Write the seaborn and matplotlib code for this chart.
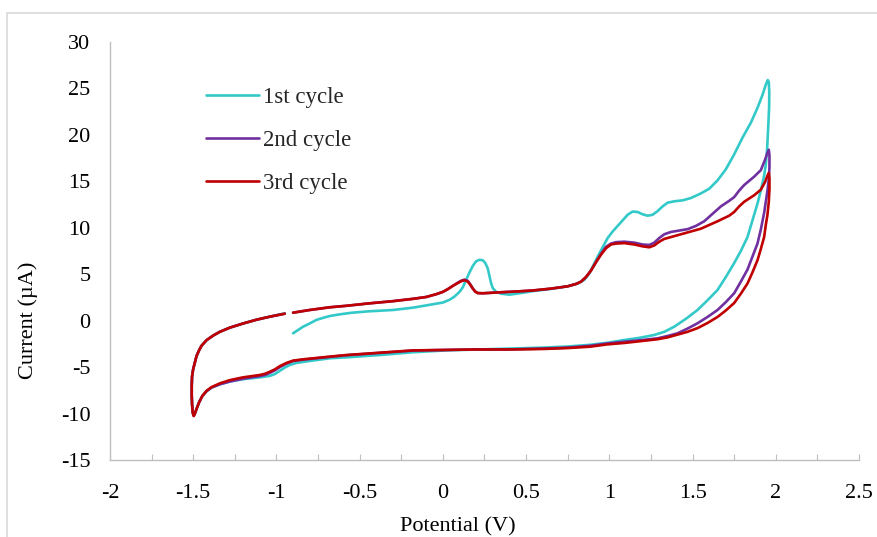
import matplotlib
matplotlib.use("Agg")
import matplotlib.pyplot as plt
import seaborn as sns
import pandas as pd
from matplotlib.patches import Rectangle

# Cyclic voltammograms: (potential V, current uA) pairs in scan order
cycle1 = [
    (-0.90, -1.36), (-0.87, -1.0), (-0.84, -0.65), (-0.80, -0.3), (-0.76, 0.08),
    (-0.72, 0.3), (-0.68, 0.5), (-0.62, 0.68), (-0.55, 0.85), (-0.45, 1.0),
    (-0.30, 1.15), (-0.18, 1.4), (-0.08, 1.7), (0.0, 1.95), (0.04, 2.25),
    (0.07, 2.6), (0.10, 3.1), (0.12, 3.6), (0.14, 4.4), (0.16, 5.2),
    (0.18, 5.9), (0.20, 6.4), (0.22, 6.55), (0.24, 6.5), (0.255, 6.2),
    (0.27, 5.6), (0.28, 4.8), (0.29, 4.0), (0.30, 3.5), (0.32, 3.1),
    (0.35, 2.9), (0.40, 2.8), (0.46, 2.95), (0.55, 3.2), (0.64, 3.4),
    (0.75, 3.7), (0.81, 4.0), (0.85, 4.4), (0.88, 5.1), (0.905, 6.0),
    (0.93, 6.9), (0.96, 7.9), (0.99, 8.9), (1.02, 9.6), (1.05, 10.2),
    (1.08, 10.8), (1.11, 11.4), (1.14, 11.75), (1.17, 11.7), (1.20, 11.45),
    (1.23, 11.3), (1.26, 11.4), (1.29, 11.8), (1.32, 12.3), (1.35, 12.7),
    (1.39, 12.85), (1.44, 12.95), (1.49, 13.2), (1.55, 13.7), (1.60, 14.2),
    (1.65, 15.1), (1.70, 16.3), (1.75, 17.9), (1.80, 19.7), (1.85, 21.3),
    (1.89, 22.9), (1.92, 24.3), (1.94, 25.4), (1.952, 25.9), (1.958, 25.7),
    (1.961, 24.6),
    (1.960, 23.0), (1.955, 21.0), (1.948, 18.5), (1.94, 16.8), (1.93, 15.6),
    (1.91, 14.0), (1.89, 12.6), (1.86, 10.8), (1.83, 9.0), (1.79, 7.5),
    (1.75, 6.2), (1.70, 4.7), (1.65, 3.3), (1.59, 2.2), (1.53, 1.15),
    (1.46, 0.2), (1.39, -0.65), (1.33, -1.2), (1.27, -1.54), (1.18, -1.85),
    (1.09, -2.08), (1.00, -2.35), (0.885, -2.6), (0.75, -2.78), (0.60, -2.9),
    (0.40, -3.0), (0.20, -3.1), (0.02, -3.2), (-0.18, -3.4), (-0.38, -3.7),
    (-0.58, -3.95), (-0.68, -4.05), (-0.80, -4.34), (-0.88, -4.55), (-0.92, -4.77),
    (-0.95, -5.05), (-0.98, -5.4), (-1.01, -5.75), (-1.04, -5.95), (-1.10, -6.1),
    (-1.20, -6.3), (-1.28, -6.55), (-1.34, -6.85), (-1.39, -7.2), (-1.42, -7.6),
    (-1.445, -8.1), (-1.465, -8.8), (-1.48, -9.5), (-1.49, -10.0), (-1.497, -10.2),
    (-1.503, -9.9), (-1.507, -9.0), (-1.509, -8.0), (-1.509, -7.0), (-1.507, -6.0),
    (-1.50, -5.2), (-1.49, -4.5), (-1.48, -3.8), (-1.465, -3.2), (-1.45, -2.7),
    (-1.42, -2.1), (-1.38, -1.6), (-1.34, -1.2), (-1.28, -0.75), (-1.20, -0.3),
    (-1.12, 0.1), (-1.04, 0.43), (-0.95, 0.78),
]

cycle2 = [
    (-0.90, 0.86), (-0.80, 1.15), (-0.68, 1.44), (-0.58, 1.6), (-0.45, 1.85),
    (-0.30, 2.1), (-0.18, 2.35), (-0.10, 2.55), (-0.04, 2.85), (0.0, 3.1),
    (0.03, 3.4), (0.06, 3.75), (0.09, 4.1), (0.11, 4.3), (0.13, 4.42),
    (0.15, 4.28), (0.165, 3.9), (0.18, 3.45), (0.195, 3.12), (0.21, 2.97),
    (0.24, 2.95), (0.34, 3.05), (0.45, 3.15), (0.54, 3.25), (0.65, 3.45),
    (0.75, 3.7), (0.80, 3.95), (0.83, 4.2), (0.86, 4.7), (0.89, 5.4),
    (0.92, 6.3), (0.95, 7.2), (0.98, 7.95), (1.01, 8.3), (1.04, 8.45),
    (1.09, 8.5), (1.15, 8.4), (1.20, 8.2), (1.24, 8.15), (1.27, 8.4),
    (1.30, 8.9), (1.33, 9.3), (1.37, 9.55), (1.42, 9.7), (1.47, 9.85),
    (1.52, 10.2), (1.57, 10.7), (1.62, 11.5), (1.67, 12.3), (1.72, 12.9),
    (1.75, 13.3), (1.78, 14.0), (1.81, 14.6), (1.87, 15.5), (1.91, 16.2),
    (1.935, 17.3), (1.95, 18.1), (1.958, 18.4), (1.962, 17.8),
    (1.962, 16.5), (1.958, 15.2), (1.95, 14.0), (1.94, 12.8), (1.93, 11.6),
    (1.91, 9.8), (1.89, 8.3), (1.86, 6.9), (1.83, 5.5), (1.79, 4.2),
    (1.75, 2.95), (1.70, 2.0), (1.65, 1.15), (1.59, 0.4), (1.53, -0.28),
    (1.47, -0.85), (1.41, -1.36), (1.35, -1.65), (1.29, -1.9), (1.19, -2.1),
    (1.09, -2.26), (0.99, -2.45), (0.885, -2.7), (0.75, -2.9), (0.60, -3.0),
    (0.40, -3.1), (0.20, -3.1), (0.02, -3.15), (-0.18, -3.22), (-0.38, -3.47),
    (-0.58, -3.72), (-0.68, -3.9), (-0.84, -4.2), (-0.90, -4.35), (-0.94, -4.62),
    (-0.98, -5.0), (-1.01, -5.35), (-1.04, -5.62), (-1.07, -5.85), (-1.10, -5.97),
    (-1.20, -6.25), (-1.28, -6.55), (-1.34, -6.85), (-1.39, -7.2), (-1.42, -7.6),
    (-1.445, -8.1), (-1.465, -8.8), (-1.48, -9.5), (-1.49, -10.0), (-1.497, -10.26),
    (-1.503, -9.9), (-1.507, -9.0), (-1.509, -8.0), (-1.509, -7.0), (-1.507, -6.0),
    (-1.50, -5.2), (-1.49, -4.5), (-1.48, -3.8), (-1.465, -3.2), (-1.45, -2.7),
    (-1.42, -2.1), (-1.38, -1.6), (-1.34, -1.2), (-1.28, -0.75), (-1.20, -0.3),
    (-1.12, 0.1), (-1.04, 0.43), (-0.95, 0.75),
]

cycle3 = [
    (-0.90, 0.86), (-0.80, 1.15), (-0.68, 1.44), (-0.58, 1.6), (-0.45, 1.85),
    (-0.30, 2.1), (-0.18, 2.35), (-0.10, 2.55), (-0.04, 2.85), (0.0, 3.1),
    (0.03, 3.4), (0.06, 3.75), (0.09, 4.05), (0.11, 4.25), (0.13, 4.35),
    (0.15, 4.2), (0.165, 3.85), (0.18, 3.45), (0.195, 3.12), (0.21, 2.97),
    (0.24, 2.95), (0.34, 3.05), (0.45, 3.15), (0.54, 3.25), (0.65, 3.45),
    (0.75, 3.7), (0.80, 3.95), (0.83, 4.2), (0.86, 4.7), (0.89, 5.4),
    (0.92, 6.3), (0.95, 7.1), (0.98, 7.8), (1.01, 8.2), (1.04, 8.3),
    (1.09, 8.35), (1.15, 8.2), (1.20, 8.0), (1.24, 7.9), (1.27, 8.1),
    (1.30, 8.5), (1.33, 8.8), (1.37, 9.0), (1.45, 9.4), (1.55, 9.9),
    (1.65, 10.7), (1.72, 11.3), (1.75, 11.7), (1.78, 12.3), (1.81, 12.8),
    (1.87, 13.5), (1.91, 14.1), (1.935, 14.9), (1.95, 15.6), (1.958, 15.9),
    (1.962, 15.3),
    (1.962, 14.2), (1.958, 12.8), (1.95, 11.4), (1.94, 10.3), (1.93, 9.0),
    (1.91, 7.7), (1.89, 6.5), (1.86, 5.2), (1.83, 4.0), (1.79, 2.9),
    (1.75, 1.9), (1.70, 1.1), (1.65, 0.4), (1.59, -0.25), (1.53, -0.8),
    (1.47, -1.2), (1.41, -1.5), (1.35, -1.8), (1.29, -2.0), (1.19, -2.2),
    (1.09, -2.4), (0.99, -2.55), (0.885, -2.8), (0.75, -2.95), (0.60, -3.05),
    (0.40, -3.1), (0.20, -3.1), (0.02, -3.15), (-0.18, -3.2), (-0.38, -3.45),
    (-0.58, -3.7), (-0.68, -3.87), (-0.84, -4.16), (-0.90, -4.3), (-0.94, -4.55),
    (-0.98, -4.9), (-1.01, -5.25), (-1.04, -5.5), (-1.07, -5.72), (-1.10, -5.85),
    (-1.20, -6.1), (-1.28, -6.4), (-1.34, -6.75), (-1.39, -7.15), (-1.42, -7.55),
    (-1.445, -8.1), (-1.465, -8.8), (-1.48, -9.5), (-1.49, -10.0), (-1.497, -10.26),
    (-1.503, -9.9), (-1.507, -9.0), (-1.509, -8.0), (-1.509, -7.0), (-1.507, -6.0),
    (-1.50, -5.2), (-1.49, -4.5), (-1.48, -3.8), (-1.465, -3.2), (-1.45, -2.7),
    (-1.42, -2.1), (-1.38, -1.6), (-1.34, -1.2), (-1.28, -0.75), (-1.20, -0.3),
    (-1.12, 0.1), (-1.04, 0.43), (-0.95, 0.75),
]

cycle_names = ["1st cycle", "2nd cycle", "3rd cycle"]
cycle_colors = ["#33C9C9", "#7030A0", "#C00000"]
x_ticks = [-2, -1.5, -1, -0.5, 0, 0.5, 1, 1.5, 2, 2.5]
y_ticks = [-15, -10, -5, 0, 5, 10, 15, 20, 25, 30]

frames = []
for name, pts in zip(cycle_names, [cycle1, cycle2, cycle3]):
    E, I = zip(*pts)
    frames.append(pd.DataFrame({"Potential": E, "Current": I, "Cycle": name}))
df = pd.concat(frames, ignore_index=True)

sns.set_theme(style="white")
plt.rcParams["font.family"] = ["Liberation Serif", "DejaVu Serif"]

fig = plt.figure(figsize=(8.78, 5.37), dpi=100)
fig.patch.set_facecolor("white")
# chart-area border (right and bottom edges fall outside the canvas)
fig.add_artist(Rectangle((7 / 878, -0.2), 1.2, 1.2 - 13 / 537,
                         transform=fig.transFigure, fill=False,
                         edgecolor="#D9D9D9", linewidth=1.2))

ax = fig.add_axes([110 / 878, 1 - 460 / 537, 749 / 878, 418 / 537])
sns.lineplot(data=df, x="Potential", y="Current", hue="Cycle",
             hue_order=cycle_names, palette=cycle_colors, sort=False,
             estimator=None, units="Cycle", linewidth=1.9,
             solid_joinstyle="round", solid_capstyle="round", ax=ax)

ax.set_xlim(-2, 2.5)
ax.set_ylim(-15, 30)
ax.set_xticks(x_ticks)
ax.set_xticklabels([f"{t:g}" for t in x_ticks])
ax.set_xticks([t + 0.25 for t in x_ticks[:-1]], minor=True)
ax.set_yticks(y_ticks)
ax.set_yticklabels([f"{t:g}" for t in y_ticks])

for side in ["top", "right"]:
    ax.spines[side].set_visible(False)
for side in ["left", "bottom"]:
    ax.spines[side].set_color("#BFBFBF")
    ax.spines[side].set_linewidth(1.0)

ax.tick_params(axis="x", which="both", direction="in", length=4, width=0.8,
               color="#BFBFBF", bottom=True, labelsize=16, pad=17, labelcolor="black")
ax.tick_params(axis="y", length=0, labelsize=16, pad=14, labelcolor="black")

ax.set_xlabel("Potential (V)", fontsize=16, color="black")
ax.set_ylabel("Current (µA)", fontsize=16, color="black")
ax.xaxis.set_label_coords((458 - 110) / 749, -(527 - 460) / 418)
ax.yaxis.set_label_coords(-(110 - 28) / 749, (460 - 320) / 418)
ax.xaxis.label.set_verticalalignment("center")
ax.yaxis.label.set_verticalalignment("center")

leg = ax.legend(loc="upper left", bbox_to_anchor=((195 - 110) / 749, (460 - 76) / 418),
                frameon=False, fontsize=16.5, handlelength=2.3, handletextpad=0.15,
                labelspacing=0.95, borderpad=0)
for h in leg.get_lines():
    h.set_linewidth(1.9)

fig.savefig("out.png", dpi=100, facecolor="white")
